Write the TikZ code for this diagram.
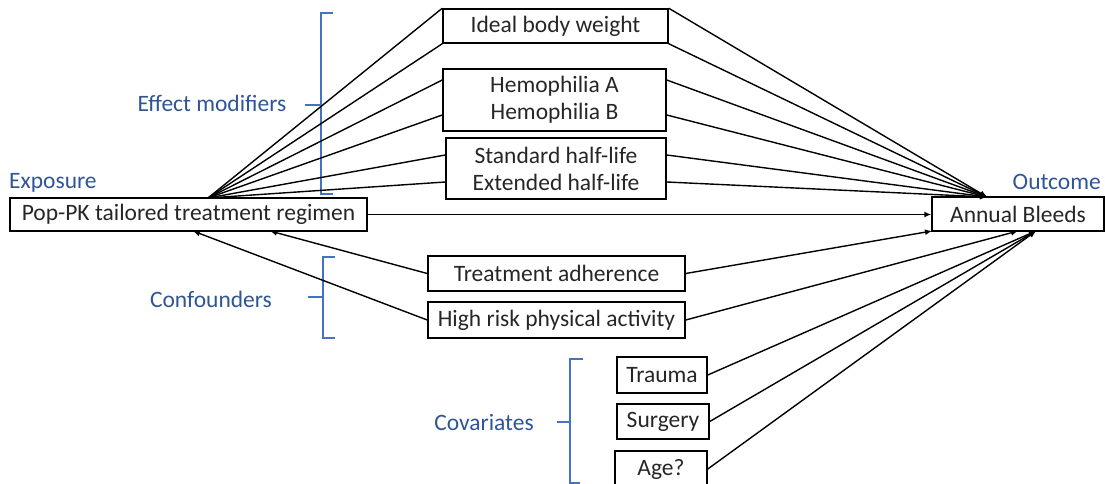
\documentclass[tikz,border=0pt]{standalone}
\usepackage{fontspec}
\setmainfont{Carlito}
\usetikzlibrary{arrows.meta,calc}
\definecolor{lblblue}{RGB}{47,85,151}
\definecolor{brblue}{RGB}{68,114,196}
\definecolor{txt}{RGB}{38,38,38}
\begin{document}
\begin{tikzpicture}[x=1pt,y=-1pt,
  box/.style={draw=black,line width=1.5pt,inner sep=0pt,align=center,text=txt,
    font=\fontsize{23.5}{27}\selectfont},
  lbl/.style={text=lblblue,inner sep=0pt,font=\fontsize{23.5}{27}\selectfont},
  link/.style={draw=black,line width=1.4pt},
  arr/.style={link,-{Latex[length=7pt,width=6pt]}},
  brace/.style={draw=brblue,line width=1.4pt}]
\useasboundingbox (0,0) rectangle (1105,484);
% boxes
\node[box,minimum width=357pt,minimum height=33pt] (expo) at (188.5,214.5) {Pop-PK tailored treatment regimen};
\node[box,minimum width=172pt,minimum height=34pt] (outc) at (1018,214) {Annual Bleeds};
\node[box,minimum width=225pt,minimum height=34pt] (ibw) at (555.5,26) {Ideal body weight};
\node[box,minimum width=223pt,minimum height=62pt] (hemo) at (554.5,100) {Hemophilia A\\Hemophilia B};
\node[box,minimum width=220pt,minimum height=61pt] (half) at (556,168.5) {Standard half-life\\Extended half-life};
\node[box,minimum width=257pt,minimum height=35pt] (adh) at (556.5,273.5) {Treatment adherence};
\node[box,minimum width=257pt,minimum height=36pt] (risk) at (556.5,320) {High risk physical activity};
\node[box,minimum width=90pt,minimum height=36pt] (trauma) at (662,375) {Trauma};
\node[box,minimum width=92pt,minimum height=35pt] (surg) at (663,421.5) {Surgery};
\node[box,minimum width=92pt,minimum height=36pt] (age) at (661,469) {Age?};
% labels
\node[lbl,anchor=west] (lexp) at (9,183) {Exposure};
\node[lbl,anchor=east] (lout) at (1101,182) {Outcome};
\node[lbl] (lmod) at (212,103) {Effect modifiers};
\node[lbl] (lconf) at (211,299) {Confounders};
\node[lbl] (lcov) at (484,422) {Covariates};
% braces
\draw[brace] (333,13) -- (321,13) -- (321,194) -- (333,194) (321,105) -- (305,105);
\draw[brace] (335,257) -- (323,257) -- (323,338) -- (335,338) (323,297) -- (308,297);
\draw[brace] (583,359) -- (570,359) -- (570,483) -- (580,483) (570,422) -- (557,422);
% fan points
\coordinate (ef) at (208,198);
\coordinate (of) at (987,197);
\coordinate (eb1) at (270,231);
\coordinate (eb2) at (193,231);
\coordinate (ob1) at (932,231);
\coordinate (ob2) at (1018,231);
\coordinate (ob3) at (1036,231);
% effect modifiers
\draw[link] (ef) -- (ibw.north west);
\draw[link] (ef) -- (ibw.south west);
\draw[link] (ef) -- ($(hemo.west)+(0,-20)$);
\draw[link] (ef) -- ($(hemo.west)+(0,15)$);
\draw[link] (ef) -- ($(half.west)+(0,-13.5)$);
\draw[link] (ef) -- ($(half.west)+(0,13.5)$);
\draw[arr] (ibw.north east) -- (of);
\draw[arr] (ibw.south east) -- (of);
\draw[arr] ($(hemo.east)+(0,-20)$) -- (of);
\draw[arr] ($(hemo.east)+(0,15)$) -- (of);
\draw[arr] ($(half.east)+(0,-13.5)$) -- (of);
\draw[arr] ($(half.east)+(0,13.5)$) -- (of);
% main effect
\draw[arr] (expo.east) -- (expo.east -| outc.west);
% confounders
\draw[arr] (adh.west) -- (eb1);
\draw[arr] (risk.west) -- (eb2);
\draw[arr] (adh.east) -- (ob1);
\draw[arr] (risk.east) -- (ob2);
% covariates
\draw[arr] (trauma.east) -- (ob3);
\draw[arr] (surg.east) -- (ob3);
\draw[arr] (age.east) -- (ob3);
\end{tikzpicture}
\end{document}
